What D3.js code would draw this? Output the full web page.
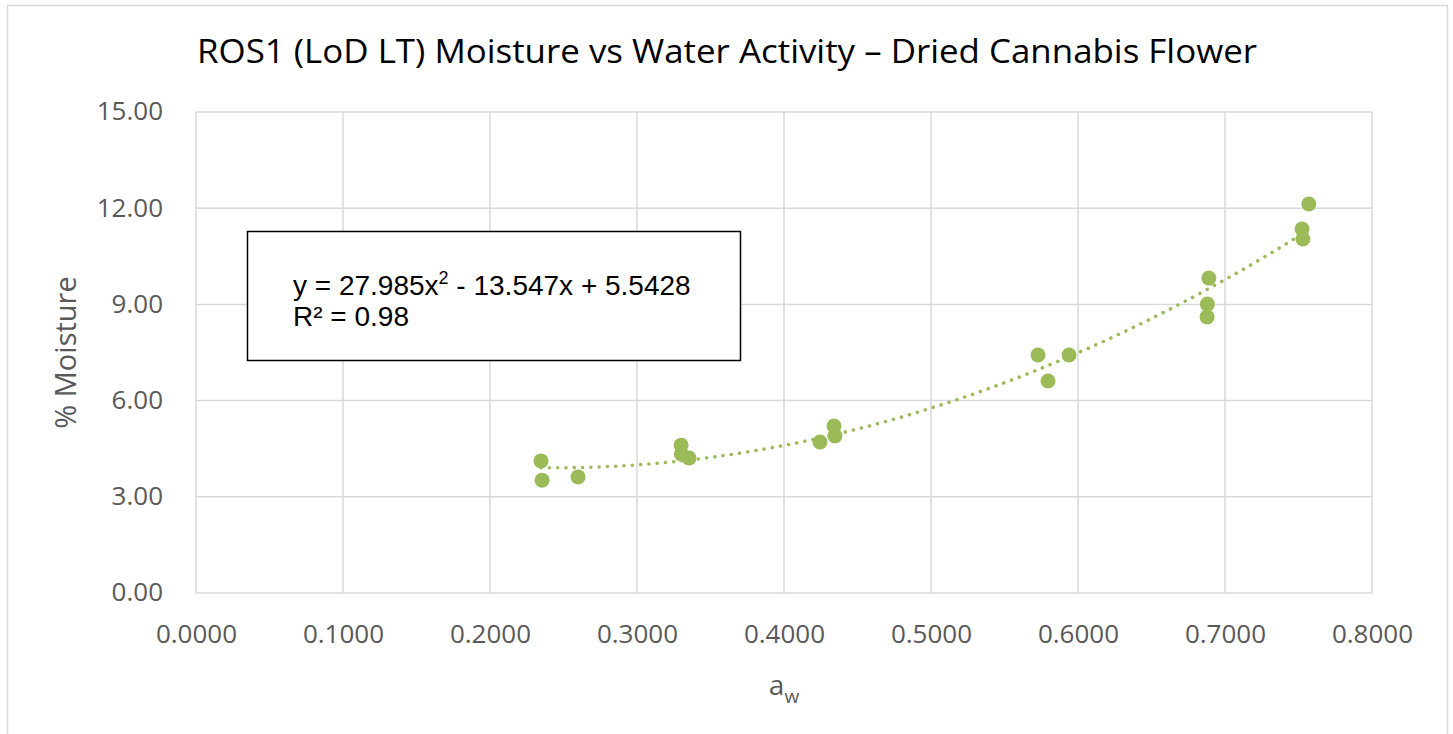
<!DOCTYPE html>
<html>
<head>
<meta charset="utf-8">
<script src="https://cdn.jsdelivr.net/npm/d3@7"></script>
<style>
  body { margin: 0; background: #fff; }
  text { font-family: "Open Sans", "Noto Sans", sans-serif; }
</style>
</head>
<body>
<div id="chart"></div>
<script>
// measured water activity and % moisture
const awValues = [0.2347, 0.2354, 0.2599, 0.3300, 0.3302, 0.3354, 0.4245, 0.4340, 0.4347,
	0.5728, 0.5796, 0.5939, 0.6890, 0.6880, 0.6878, 0.7524, 0.7530, 0.7570];
const moistureValues = [4.12, 3.52, 3.62, 4.61, 4.33, 4.21, 4.71, 5.21, 4.90,
	7.42, 6.61, 7.42, 9.82, 9.01, 8.61, 11.35, 11.04, 12.13];
const xTicks = [0, 0.1, 0.2, 0.3, 0.4, 0.5, 0.6, 0.7, 0.8];
const yTicks = [0, 3, 6, 9, 12, 15];
const fitCoef = [27.985, -13.547, 5.5428];
const titleText = 'ROS1 (LoD LT) Moisture vs Water Activity \u2013 Dried Cannabis Flower';

const width = 1453, height = 734;
const margin = {left: 196, right: 81, top: 112, bottom: 141};
const green = '#9bbb59';

const svg = d3.select('#chart')
	.append('svg')
	.attr('width', width)
	.attr('height', height);

// chart area border
svg.append('rect')
	.attr('x', 7.5)
	.attr('y', 5.5)
	.attr('width', 1440)
	.attr('height', 740)
	.attr('fill', 'none')
	.attr('stroke', '#d9d9d9')
	.attr('stroke-width', 1.5);

const xScale = d3.scaleLinear()
	.domain([0, 0.8])
	.range([margin.left, width - margin.right]);
const yScale = d3.scaleLinear()
	.domain([0, 15])
	.range([height - margin.bottom, margin.top]);

// gridlines
svg.append('g')
	.selectAll('line')
	.data(xTicks)
	.enter()
	.append('line')
	.attr('x1', d => xScale(d))
	.attr('x2', d => xScale(d))
	.attr('y1', yScale(15))
	.attr('y2', yScale(0))
	.attr('stroke', '#d9d9d9')
	.attr('stroke-width', 1.5);

svg.append('g')
	.selectAll('line')
	.data(yTicks)
	.enter()
	.append('line')
	.attr('x1', xScale(0))
	.attr('x2', xScale(0.8))
	.attr('y1', d => yScale(d))
	.attr('y2', d => yScale(d))
	.attr('stroke', '#d9d9d9')
	.attr('stroke-width', 1.5);

// axes (labels only, Excel style)
const xAxis = svg.append('g')
	.attr('transform', `translate(0,${yScale(0)})`)
	.call(d3.axisBottom(xScale).tickValues(xTicks).tickFormat(d3.format('.4f')).tickSize(0).tickPadding(32));
const yAxis = svg.append('g')
	.attr('transform', `translate(${xScale(0) - 33},0)`)
	.call(d3.axisLeft(yScale).tickValues(yTicks).tickFormat(d3.format('.2f')).tickSize(0).tickPadding(0));

[xAxis, yAxis].forEach(a => {
	a.select('.domain').remove();
	a.selectAll('text')
		.attr('fill', '#595959')
		.style('font-size', '26px')
		.style('font-family', '"Open Sans", sans-serif');
});
yAxis.selectAll('text').attr('dy', '0.3em');

// trendline (polynomial, order 2)
const fit = x => fitCoef[0] * x * x + fitCoef[1] * x + fitCoef[2];
const xExtent = d3.extent(awValues);
const curvePts = d3.range(0, 101).map(i => {
	const x = xExtent[0] + (xExtent[1] - xExtent[0]) * i / 100;
	return [x, fit(x)];
});
svg.append('path')
	.datum(curvePts)
	.attr('fill', 'none')
	.attr('stroke', green)
	.attr('stroke-width', 3.5)
	.attr('stroke-linecap', 'round')
	.attr('stroke-dasharray', '0.1 8.2')
	.attr('d', d3.line().x(d => xScale(d[0])).y(d => yScale(d[1])));

// points
svg.append('g')
	.selectAll('circle')
	.data(awValues.map((d, i) => [d, moistureValues[i]]))
	.enter()
	.append('circle')
	.attr('cx', d => xScale(d[0]))
	.attr('cy', d => yScale(d[1]))
	.attr('r', 7.5)
	.attr('fill', green);

// equation box
svg.append('rect')
	.attr('x', 247.5)
	.attr('y', 231.5)
	.attr('width', 493)
	.attr('height', 129)
	.attr('fill', '#fff')
	.attr('stroke', '#000')
	.attr('stroke-width', 1.5);

const eq = svg.append('text')
	.attr('x', 293)
	.attr('y', 295)
	.attr('fill', '#000')
	.style('font-family', '"Liberation Sans", Arial, sans-serif')
	.style('font-size', '28px');
eq.append('tspan').text(`y = ${fitCoef[0]}x`);
eq.append('tspan').attr('dy', -11).style('font-size', '18px').text('2');
eq.append('tspan').attr('dy', 11).text(` - ${Math.abs(fitCoef[1])}x + ${fitCoef[2]}`);

svg.append('text')
	.attr('x', 293)
	.attr('y', 326)
	.attr('fill', '#000')
	.style('font-family', '"Liberation Sans", Arial, sans-serif')
	.style('font-size', '28px')
	.text('R\u00b2 = 0.98');

// title
svg.append('text')
	.attr('x', 727)
	.attr('y', 63)
	.attr('text-anchor', 'middle')
	.attr('fill', '#000')
	.attr('textLength', 1060)
	.attr('lengthAdjust', 'spacingAndGlyphs')
	.style('font-size', '33px')
	.text(titleText);

// axis titles
const xTitle = svg.append('text')
	.attr('x', 784)
	.attr('y', 695)
	.attr('text-anchor', 'middle')
	.attr('fill', '#595959')
	.style('font-size', '28px');
xTitle.append('tspan').text('a');
xTitle.append('tspan').attr('dy', 8).style('font-size', '19px').text('w');

svg.append('text')
	.attr('transform', `translate(76,${(yScale(0) + yScale(15)) / 2}) rotate(-90)`)
	.attr('text-anchor', 'middle')
	.attr('fill', '#595959')
	.style('font-size', '29px')
	.text('% Moisture');
</script>
</body>
</html>
